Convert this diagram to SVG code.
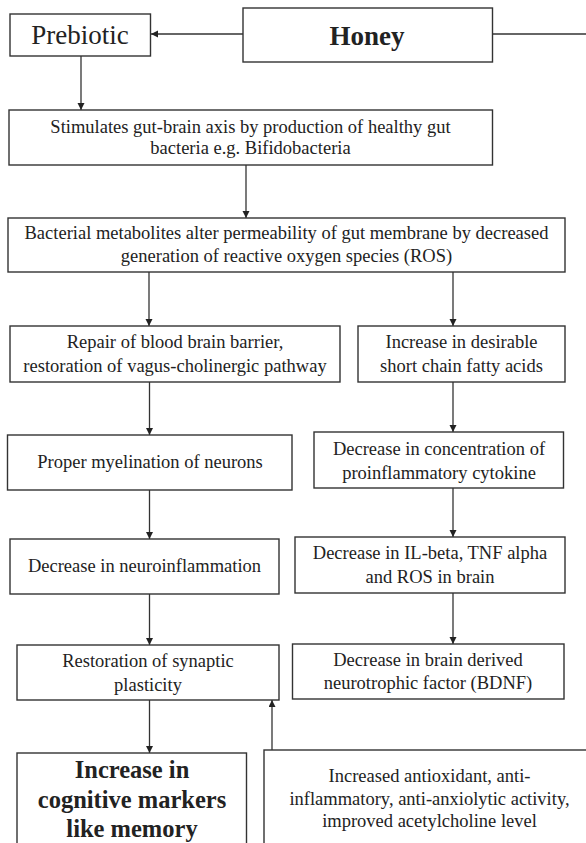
<svg xmlns="http://www.w3.org/2000/svg" width="586" height="843" viewBox="0 0 586 843">
<defs>
<marker id="ah" markerUnits="userSpaceOnUse" markerWidth="8" markerHeight="8" refX="7" refY="3.5" orient="auto">
<path d="M0,0 L7,3.5 L0,7 z" fill="#222"/>
</marker>
<style>
.box{fill:#fff;stroke:#333;stroke-width:1.4}
.t{font-family:"Liberation Serif","Times New Roman",serif;font-size:18.5px;fill:#222;text-anchor:middle}
.big{font-size:27px}
.cog{font-size:24.5px;font-weight:bold}
.b{font-weight:bold}
.ln{stroke:#333;stroke-width:1.3;fill:none}
.ar{stroke:#333;stroke-width:1.3;fill:none;marker-end:url(#ah)}
</style>
</defs>
<rect width="586" height="843" fill="#fff"/>
<g id="connectors">
<line class="ar" x1="243" y1="34" x2="151" y2="34"/>
<line class="ln" x1="492" y1="34" x2="586" y2="34"/>
<line class="ar" x1="81" y1="56" x2="81" y2="110"/>
<line class="ar" x1="246" y1="165" x2="246" y2="218"/>
<line class="ar" x1="149" y1="272" x2="149" y2="326"/>
<line class="ar" x1="453" y1="272" x2="453" y2="326"/>
<line class="ar" x1="149.5" y1="382" x2="149.5" y2="435"/>
<line class="ar" x1="453" y1="382" x2="453" y2="432"/>
<line class="ar" x1="149.5" y1="490" x2="149.5" y2="539"/>
<line class="ar" x1="453" y1="488" x2="453" y2="537"/>
<line class="ar" x1="149.5" y1="594" x2="149.5" y2="645"/>
<line class="ar" x1="453" y1="593" x2="453" y2="644"/>
<line class="ar" x1="149.5" y1="700" x2="149.5" y2="753"/>
<line class="ar" x1="272" y1="750" x2="272" y2="700"/>
</g>
<g id="prebiotic">
<rect class="box" x="10" y="14" width="140.5" height="42"/>
<text class="t big" x="80" y="44">Prebiotic</text>
</g>
<g id="honey">
<rect class="box" x="243" y="8" width="249.5" height="54"/>
<text class="t big b" x="367" y="45">Honey</text>
</g>
<g id="stimulates">
<rect class="box" x="9" y="110" width="483.5" height="55"/>
<text class="t" x="250.5" y="133">Stimulates gut-brain axis by production of healthy gut</text>
<text class="t" x="250.5" y="154">bacteria e.g. Bifidobacteria</text>
</g>
<g id="bacterial">
<rect class="box" x="8" y="218" width="557" height="54"/>
<text class="t" x="286.5" y="239">Bacterial metabolites alter permeability of gut membrane by decreased</text>
<text class="t" x="286.5" y="262">generation of reactive oxygen species (ROS)</text>
</g>
<g id="repair">
<rect class="box" x="10" y="326" width="330" height="56"/>
<text class="t" x="175" y="348">Repair of blood brain barrier,</text>
<text class="t" x="175" y="372">restoration of vagus-cholinergic pathway</text>
</g>
<g id="scfa">
<rect class="box" x="358" y="326" width="207" height="56"/>
<text class="t" x="461.5" y="348">Increase in desirable</text>
<text class="t" x="461.5" y="372">short chain fatty acids</text>
</g>
<g id="myelination">
<rect class="box" x="7.5" y="435" width="284.5" height="55"/>
<text class="t" x="150" y="468">Proper myelination of neurons</text>
</g>
<g id="cytokine">
<rect class="box" x="314" y="432" width="249.5" height="56"/>
<text class="t" x="439" y="455">Decrease in concentration of</text>
<text class="t" x="439" y="479">proinflammatory cytokine</text>
</g>
<g id="neuroinflammation">
<rect class="box" x="10" y="539" width="269" height="55"/>
<text class="t" x="144.5" y="572">Decrease in neuroinflammation</text>
</g>
<g id="ilbeta">
<rect class="box" x="295" y="537" width="270" height="56"/>
<text class="t" x="430" y="559">Decrease in IL-beta, TNF alpha</text>
<text class="t" x="430" y="583">and ROS in brain</text>
</g>
<g id="synaptic">
<rect class="box" x="17" y="645" width="262" height="55"/>
<text class="t" x="148" y="667">Restoration of synaptic</text>
<text class="t" x="148" y="691">plasticity</text>
</g>
<g id="bdnf">
<rect class="box" x="292.5" y="644" width="271.5" height="55"/>
<text class="t" x="428" y="666">Decrease in brain derived</text>
<text class="t" x="428" y="689">neurotrophic factor (BDNF)</text>
</g>
<g id="cognitive">
<rect class="box" x="17" y="753" width="229.5" height="110"/>
<text class="t cog" x="132" y="778">Increase in</text>
<text class="t cog" x="132" y="808">cognitive markers</text>
<text class="t cog" x="132" y="837">like memory</text>
</g>
<g id="antioxidant">
<rect class="box" x="264" y="750" width="340" height="110"/>
<text class="t" x="429.5" y="782">Increased antioxidant, anti-</text>
<text class="t" x="429.5" y="805">inflammatory, anti-anxiolytic activity,</text>
<text class="t" x="429.5" y="827">improved acetylcholine level</text>
</g>
</svg>
